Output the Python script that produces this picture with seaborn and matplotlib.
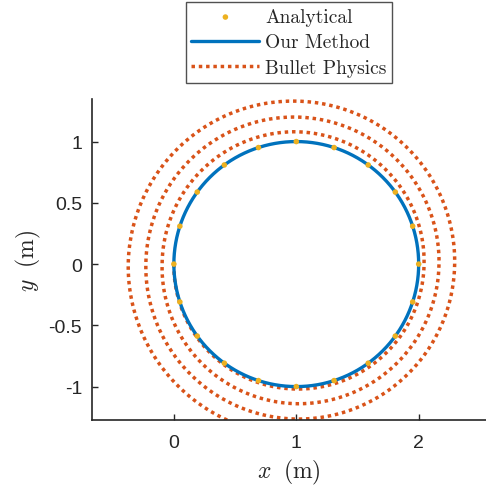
import numpy as np
import pandas as pd
import matplotlib
matplotlib.use('Agg')
import matplotlib.pyplot as plt
import seaborn as sns

# --- data ---
# reference circle (analytical / our method): centre and radius in metres
circle_cx = 1.0
circle_cy = 0.0
circle_r = 1.0
# analytical samples, degrees around the circle centre
analytical_deg = [0, 18, 36, 54, 72, 90, 108, 126, 144, 162,
                  180, 198, 216, 234, 252, 270, 288, 306, 324, 342]
# bullet physics drifts outwards: radius at each quarter turn,
# starting at (0, 0) (180 deg) and running counter-clockwise
bullet_deg = [180, 270, 360, 450, 540, 630, 720, 810, 900, 990, 1080, 1170, 1260, 1350]
bullet_r = [1.0, 1.02, 1.044, 1.08, 1.096, 1.14, 1.166, 1.20, 1.229, 1.265, 1.294, 1.33, 1.373, 1.40]

x_ticks = [0, 1, 2]
y_ticks = [-1, -0.5, 0, 0.5, 1]
x_lim = (-0.67, 2.55)
y_lim = (-1.273, 1.347)

blue = '#0072BD'
red = '#D95319'
yellow = '#EDB120'

sns.set_style('ticks')
plt.rcParams['font.family'] = ['Liberation Sans', 'DejaVu Sans']
plt.rcParams['mathtext.fontset'] = 'cm'
plt.rcParams['axes.unicode_minus'] = False
plt.rcParams['xtick.direction'] = 'in'
plt.rcParams['ytick.direction'] = 'in'


def build_frames():
    t = np.deg2rad(np.linspace(180, 540, 721))
    ours = pd.DataFrame({'x': circle_cx + circle_r * np.cos(t),
                         'y': circle_cy + circle_r * np.sin(t)})
    a = np.deg2rad(analytical_deg)
    ana = pd.DataFrame({'x': circle_cx + circle_r * np.cos(a),
                        'y': circle_cy + circle_r * np.sin(a)})
    d = np.linspace(bullet_deg[0], bullet_deg[-1], 3000)
    r = np.interp(d, bullet_deg, bullet_r)
    bul = pd.DataFrame({'x': circle_cx + r * np.cos(np.deg2rad(d)),
                        'y': circle_cy + r * np.sin(np.deg2rad(d))})
    return ana, ours, bul


def main():
    ana, ours, bul = build_frames()

    fig = plt.figure(figsize=(4.86, 4.89), dpi=100)
    ax = fig.add_axes([0.189, 0.139, 0.811, 0.6564])

    sns.lineplot(data=bul, x='x', y='y', sort=False, estimator=None, ax=ax,
                 color=red, linewidth=2.5, linestyle=(0, (1, 1.1)),
                 label='Bullet Physics', zorder=2)
    sns.lineplot(data=ours, x='x', y='y', sort=False, estimator=None, ax=ax,
                 color=blue, linewidth=2.4, label='Our Method', zorder=3)
    sns.scatterplot(data=ana, x='x', y='y', ax=ax, color=yellow, s=16,
                    edgecolor='none', label='Analytical', zorder=4)
    for ln in ax.get_lines():
        ln.set_dash_capstyle('butt')

    ax.set_xlim(*x_lim)
    ax.set_ylim(*y_lim)
    ax.set_xticks(x_ticks)
    ax.set_xticklabels(['0', '1', '2'])
    ax.set_yticks(y_ticks)
    ax.set_yticklabels(['-1', '-0.5', '0', '0.5', '1'])
    ax.tick_params(labelsize=14, length=4, width=1.0, colors='#262626')
    ax.tick_params(axis='x', pad=10)
    ax.tick_params(axis='y', pad=7)
    for s in ['top', 'right']:
        ax.spines[s].set_visible(False)
    for s in ['left', 'bottom']:
        ax.spines[s].set_color('#262626')
        ax.spines[s].set_linewidth(1.2)

    ax.set_xlabel(r'$x\;\ (\mathrm{m})$', fontsize=17, labelpad=4)
    ax.set_ylabel(r'$y\;\ (\mathrm{m})$', fontsize=17, labelpad=4)

    handles, labels = ax.get_legend_handles_labels()
    order = [labels.index('Analytical'), labels.index('Our Method'), labels.index('Bullet Physics')]
    leg = ax.legend([handles[i] for i in order], [labels[i] for i in order],
                    loc='center', bbox_to_anchor=(289 / 486, 1 - 43.5 / 489),
                    bbox_transform=fig.transFigure, frameon=True, fancybox=False,
                    edgecolor='#262626', prop={'family': 'cmr10', 'size': 14},
                    handlelength=3.5, handletextpad=0.3, labelspacing=0.38,
                    borderpad=0.3, borderaxespad=0)
    leg.get_frame().set_linewidth(1.0)

    fig.savefig('out.png', dpi=100)
    plt.close(fig)


if __name__ == '__main__':
    main()
